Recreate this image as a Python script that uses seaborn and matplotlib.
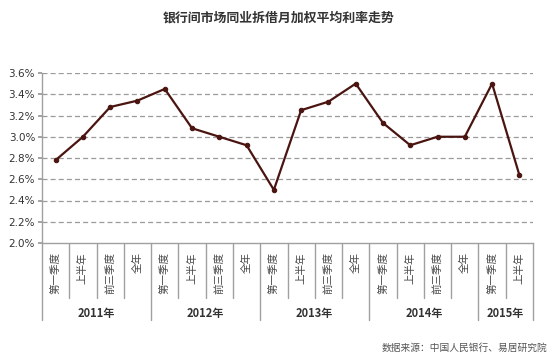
import numpy as np
import pandas as pd
import seaborn as sns
import matplotlib.pyplot as plt
import matplotlib.transforms as mtransforms

# data
periods = ["第一季度", "上半年", "前三季度", "全年"] * 4 + ["第一季度", "上半年"]
years = ["2011年", "2012年", "2013年", "2014年", "2015年"]
year_sizes = [4, 4, 4, 4, 2]
rates = [2.78, 3.00, 3.28, 3.34, 3.45, 3.08, 3.00, 2.92, 2.50,
         3.25, 3.33, 3.50, 3.13, 2.92, 3.00, 3.00, 3.50, 2.64]

sns.set_theme(style="white")
plt.rcParams['font.family'] = ['Noto Sans CJK SC', 'DejaVu Sans']

df = pd.DataFrame({"idx": np.arange(len(rates)), "rate": rates})

fig = plt.figure(figsize=(5.55, 3.58), dpi=100)
ax = fig.add_axes([42 / 555, 1 - 243 / 358, (533 - 42) / 555, (243 - 73) / 358])

line_color = "#4a1410"
sns.lineplot(data=df, x="idx", y="rate", ax=ax, color=line_color, linewidth=1.6,
             marker="o", markersize=3.2, markeredgecolor=line_color)

ax.set_xlim(-0.5, len(rates) - 0.5)
ax.set_ylim(2.0, 3.6)
yt = np.arange(2.0, 3.61, 0.2)
ax.set_yticks(yt)
ax.set_yticklabels([f"{v:.1f}%" for v in yt], fontsize=7.5, color="#333333",
                   family=['DejaVu Sans'])
ax.tick_params(axis="y", length=3, color="#999999", pad=2, left=True)
ax.set_xticks([])
ax.set_xlabel("")
ax.set_ylabel("")
for y in yt[1:]:
    ax.axhline(y, color="#9a9a9a", linestyle=(0, (4, 2.5)), linewidth=0.9, zorder=0)

for s in ["top", "right"]:
    ax.spines[s].set_visible(False)
for s in ["left", "bottom"]:
    ax.spines[s].set_color("#a0a0a0")
    ax.spines[s].set_linewidth(1.0)

# multi-level category axis
trans = mtransforms.blended_transform_factory(ax.transData, ax.transAxes)
h = 170.0
cat_bottom = -55 / h
year_bottom = -77 / h
bounds = np.cumsum([0] + year_sizes) - 0.5
for i in range(len(rates) + 1):
    x = i - 0.5
    bottom = year_bottom if x in bounds else cat_bottom
    ax.plot([x, x], [0, bottom], transform=trans, color="#a0a0a0",
            linewidth=1.0, clip_on=False)
for i, p in enumerate(periods):
    ax.text(i, -0.055, p, transform=trans, rotation=90, ha="center", va="top",
            fontsize=7.6, color="#454545")
for k, yname in enumerate(years):
    mid = (bounds[k] + bounds[k + 1]) / 2
    ax.text(mid, -70 / h, yname, transform=trans, ha="center", va="center",
            fontsize=8, fontweight="bold", color="#333333")

fig.text(279 / 555, 1 - 18 / 358, "银行间市场同业拆借月加权平均利率走势",
         ha="center", va="center", fontsize=9.3, fontweight="bold", color="#333333")
fig.text(547 / 555, 1 - 348 / 358, "数据来源：中国人民银行、易居研究院",
         ha="right", va="center", fontsize=7, color="#555555")

fig.savefig("out.png", dpi=100)
